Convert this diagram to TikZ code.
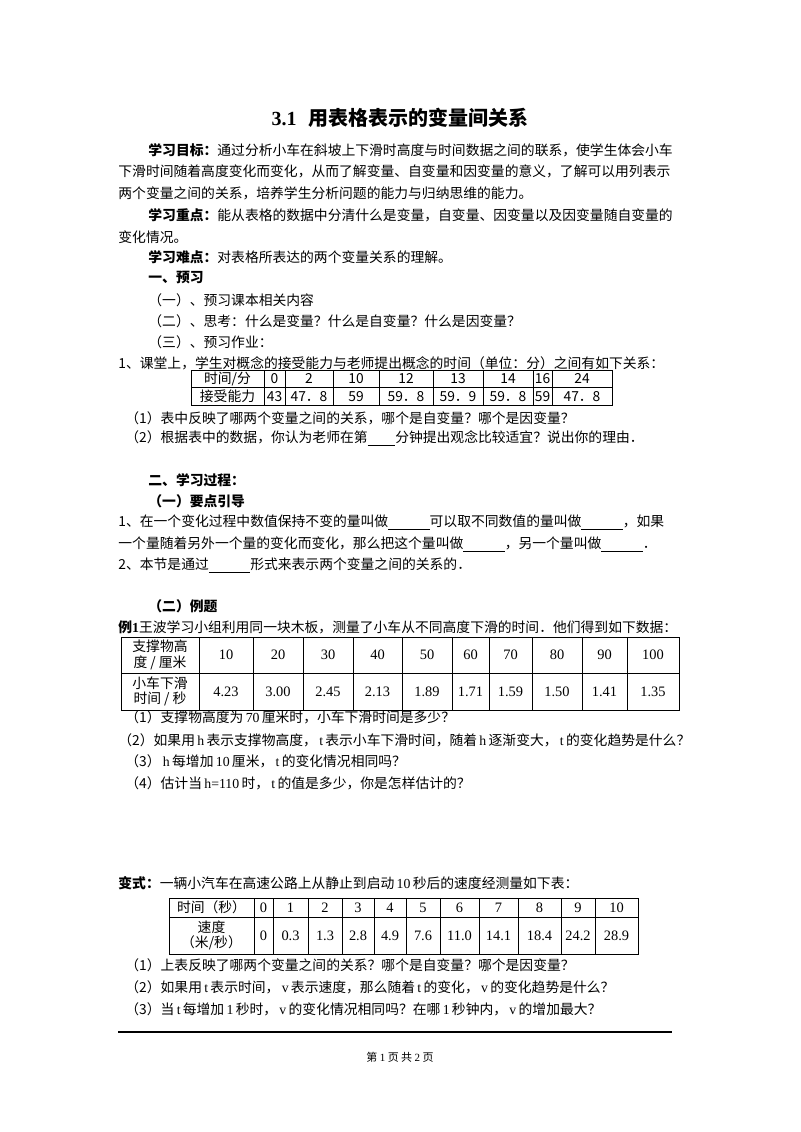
\documentclass[tikz,border=0pt]{standalone}
\usepackage{fontspec}
\setmainfont{Noto Sans CJK SC}
\newfontfamily\numf{Liberation Serif}
\newcommand{\nm}[1]{\,{\numf #1}\,}
\begin{document}
\begin{tikzpicture}[x=0.5pt,y=-0.5pt,
  t/.style={anchor=west,inner sep=0pt,font=\fontsize{6.9}{8}\selectfont},
  c/.style={inner sep=0pt,font=\fontsize{6.9}{7.6}\selectfont,align=center},
  g/.style={line width=0.5pt}]
\fill[white] (0,0) rectangle (800,1132);
\useasboundingbox (0,0) rectangle (800,1132);
\node[inner sep=0pt,font=\fontsize{10}{12}\selectfont\bfseries] (title) at (400,118) {{\numf 3.1}\hspace{0.6em}用表格表示的变量间关系};
\node[t] (l1) at (148,150) {\textbf{学习目标：}通过分析小车在斜坡上下滑时高度与时间数据之间的联系，使学生体会小车};
\node[t] (l2) at (118,171) {下滑时间随着高度变化而变化，从而了解变量、自变量和因变量的意义，了解可以用列表示};
\node[t] (l3) at (118,193) {两个变量之间的关系，培养学生分析问题的能力与归纳思维的能力。};
\node[t] (l4) at (148,215) {\textbf{学习重点：}能从表格的数据中分清什么是变量，自变量、因变量以及因变量随自变量的};
\node[t] (l5) at (118,237) {变化情况。};
\node[t] (l6) at (148,257) {\textbf{学习难点：}对表格所表达的两个变量关系的理解。};
\node[t] (l7) at (148,278) {\textbf{一、预习}};
\node[t] (l8) at (148,300) {（一）、预习课本相关内容};
\node[t] (l9) at (148,321) {（二）、思考：什么是变量？什么是自变量？什么是因变量？};
\node[t] (l10) at (148,342) {（三）、预习作业：};
\node[t] (l11) at (118,363) {1、课堂上，学生对概念的接受能力与老师提出概念的时间（单位：分）之间有如下关系：};
% table 1
\draw[g] (191,370) rectangle (612,405);
\draw[g] (191,387) -- (612,387);
\foreach \a/\b/\p/\q in {191/264/{时间/分}/接受能力,264/285/0/43,285/333/2/{47．8},333/379/10/59,379/433/12/{59．8},433/483/13/{59．9},483/533/14/{59．8},533/552/16/59,552/612/24/{47．8}}{
  \draw[g] (\a,370) -- (\a,405);
  \node[c] at ({(\a+\b)/2},378.5) {\p};
  \node[c] at ({(\a+\b)/2},396.5) {\q};
}
\node[t] (l12) at (125,418) {（1）表中反映了哪两个变量之间的关系，哪个是自变量？哪个是因变量？};
\node[t] (l13) at (125,439) {（2）根据表中的数据，你认为老师在第\underline{\hspace{2em}}分钟提出观念比较适宜？说出你的理由．};
\node[t] (l14) at (148,480) {\textbf{二、学习过程：}};
\node[t] (l15) at (148,501) {\textbf{（一）要点引导}};
\node[t] (l16) at (118,523) {1、在一个变化过程中数值保持不变的量叫做\underline{\hspace{3em}}可以取不同数值的量叫做\underline{\hspace{3em}}，如果};
\node[t] (l17) at (118,545) {一个量随着另外一个量的变化而变化，那么把这个量叫做\underline{\hspace{3em}}，另一个量叫做\underline{\hspace{3em}}．};
\node[t] (l18) at (118,566) {2、本节是通过\underline{\hspace{3em}}形式来表示两个变量之间的关系的．};
\node[t] (l19) at (148,606) {\textbf{（二）例题}};
\node[t] (l20) at (118,627) {\textbf{例{\numf 1}}王波学习小组利用同一块木板，测量了小车从不同高度下滑的时间．他们得到如下数据：};
% table 2
\draw[g] (121,637) rectangle (679,710);
\draw[g] (121,673) -- (679,673);
\node[c] at (160,655) {支撑物高\\度 / 厘米};
\node[c] at (160,691.5) {小车下滑\\时间 / 秒};
\foreach \a/\b/\p/\q in {199/253/10/4.23,253/303/20/3.00,303/353/30/2.45,353/402/40/2.13,402/452/50/1.89,452/489/60/1.71,489/532/70/1.59,532/582/80/1.50,582/627/90/1.41,627/679/100/1.35}{
  \draw[g] (\a,637) -- (\a,710);
  \node[c,font=\fontsize{7.2}{8}\numf] at ({(\a+\b)/2},655) {\p};
  \node[c,font=\fontsize{7.2}{8}\numf] at ({(\a+\b)/2},691.5) {\q};
}
\node[t] (l21) at (125,717) {（1）支撑物高度为\nm{70}厘米时，小车下滑时间是多少？};
\node[t] (l22) at (118,740) {（2）如果用\nm{h}表示支撑物高度，\nm{t}表示小车下滑时间，随着\nm{h}逐渐变大，\nm{t}的变化趋势是什么？};
\node[t] (l23) at (125,761) {（3）\nm{h}每增加\nm{10}厘米，\nm{t}的变化情况相同吗？};
\node[t] (l24) at (125,783) {（4）估计当\nm{h=110}时，\nm{t}的值是多少，你是怎样估计的？};
\node[t] (l25) at (118,883) {\textbf{变式：}一辆小汽车在高速公路上从静止到启动\nm{10}秒后的速度经测量如下表：};
% table 3
\draw[g] (169,898) rectangle (638,954);
\draw[g] (169,917) -- (638,917);
\node[c] at (211.5,907.5) {时间（秒）};
\node[c] at (211.5,935.5) {速度\\（米/秒）};
\foreach \a/\b/\p/\q in {254/273/0/0,273/308/1/0.3,308/342/2/1.3,342/374/3/2.8,374/406/4/4.9,406/440/5/7.6,440/479/6/11.0,479/518/7/14.1,518/561/8/18.4,561/595/9/24.2,595/638/10/28.9}{
  \draw[g] (\a,898) -- (\a,954);
  \node[c,font=\fontsize{7.2}{8}\numf] at ({(\a+\b)/2},907.5) {\p};
  \node[c,font=\fontsize{7.2}{8}\numf] at ({(\a+\b)/2},935.5) {\q};
}
\node[t] (l26) at (125,965) {（1）上表反映了哪两个变量之间的关系？哪个是自变量？哪个是因变量？};
\node[t] (l27) at (125,987) {（2）如果用\nm{t}表示时间，\nm{v}表示速度，那么随着\nm{t}的变化，\nm{v}的变化趋势是什么？};
\node[t] (l28) at (125,1009) {（3）当\nm{t}每增加\nm{1}秒时，\nm{v}的变化情况相同吗？在哪\nm{1}秒钟内，\nm{v}的增加最大？};
\coordinate (r1) at (118,1032); \coordinate (r2) at (672,1032);
\draw[line width=0.8pt] (r1) -- (r2);
\node[inner sep=0pt,font=\fontsize{5.5}{6}\selectfont] (foot) at (400,1057) {第 {\numf 1} 页 共 {\numf 2} 页};
\end{tikzpicture}
\end{document}
